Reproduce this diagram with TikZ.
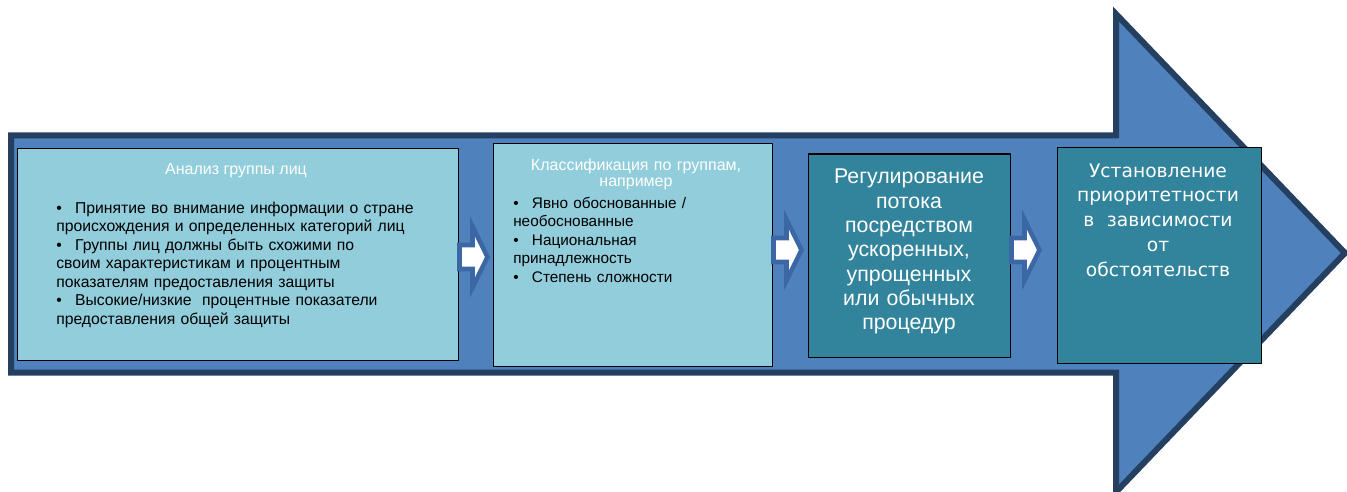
\documentclass[tikz,border=0pt]{standalone}
\usepackage{fontspec}
\setmainfont{Liberation Sans}
\newfontfamily\stepfont{DejaVu Sans}
\usepackage{xcolor}
\usepackage{tikz}
\usetikzlibrary{calc,fit}
\definecolor{arrowblue}{HTML}{4F81BD}
\definecolor{arrowedge}{HTML}{243F60}
\definecolor{rimblue}{HTML}{3C67A5}
\definecolor{softcyan}{HTML}{92CDDC}
\definecolor{deepteal}{HTML}{31849B}
\newcommand{\bul}{\textbullet\hspace{10pt}}
\tikzset{
    every picture/.style={line cap=round,line join=round},
    bigarrow/.style={fill=arrowblue,draw=arrowedge,line width=4.5pt,line join=miter,line cap=butt},
    lightbox/.style={draw=black,fill=softcyan,line width=0.75pt,inner sep=0pt},
    darkbox/.style={draw=black,fill=deepteal,line width=0.75pt,inner sep=0pt},
    stepshape/.style={fill=white,draw=rimblue,line width=3.4pt,line join=miter},
    boxtitle/.style={text=white,inner sep=0pt,font=\fontsize{12}{12}\selectfont},
    listtext/.style={text=black,inner sep=0pt,align=left,text width=320pt,
      font=\fontsize{11.5}{13.9}\selectfont},
    bigtext/.style={text=white,inner sep=0pt,align=center,text width=150pt,
      font=\fontsize{16}{18.25}\selectfont}
}
\begin{document}
\begin{tikzpicture}[x=0.75pt,y=-0.75pt]
  \useasboundingbox (0,0) rectangle (1347,492);
  % background arrow
  \draw[bigarrow] (11,135.5) -- (1116,135.5) -- (1116,14) -- (1345,253)
    -- (1116,492) -- (1116,372.5) -- (11,372.5) -- cycle;
  % boxes
  \node[lightbox,fit={(17,149) (458,360)}] (analysis) {};
  \node[lightbox,fit={(493,144) (772,366)}] (classify) {};
  \node[darkbox,fit={(808,154) (1010,357)}] (regulate) {};
  \node[darkbox,fit={(1057,148) (1261,363)}] (priority) {};
  % texts
  \node[boxtitle,anchor=base] (analysis title) at (236,175) {Анализ группы лиц};
  \node[listtext,anchor=base west,font=\fontsize{11.8}{13.9}\selectfont] (analysis list)
    at (56,213) {%
    \bul Принятие во внимание информации о стране\\
    происхождения и определенных категорий лиц\\
    \bul Группы лиц должны быть схожими по\\
    своим характеристикам и процентным\\
    показателям предоставления защиты\\
    \bul Высокие/низкие\ \ процентные показатели\\
    предоставления общей защиты};
  \node[boxtitle,anchor=base,align=center,text width=220pt] (classify title) at (636,171)
    {Классификация по группам,\\ например};
  \node[listtext,anchor=base west] (classify list) at (513,208) {%
    \bul Явно обоснованные /\\
    необоснованные\\
    \bul Национальная\\
    принадлежность\\
    \bul Степень сложности};
  \node[bigtext,anchor=base] (regulate text) at (909,184) {Регулирование\\ потока\\
    посредством\\ ускоренных,\\ упрощенных\\ или обычных\\ процедур};
  \node[bigtext,anchor=base,font=\stepfont\fontsize{14}{18.6}\selectfont] (priority text)
    at (1158,177) {Установление\\ приоритетности\\ в\ \ зависимости\\ от\\ обстоятельств};
  % step arrows
  \coordinate (s1) at (analysis.east |- 0,257);
  \coordinate (s2) at (classify.east |- 0,250);
  \coordinate (s3) at (regulate.east |- 0,250);
  \foreach \s in {s1,s2,s3} {
    \draw[stepshape] (\s) ++(1,-12) -- ++(13,0) -- ++(0,-18.5) -- ++(15,30.5)
      -- ++(-15,30.5) -- ++(0,-18.5) -- ++(-13,0) -- cycle;
  }
\end{tikzpicture}
\end{document}
